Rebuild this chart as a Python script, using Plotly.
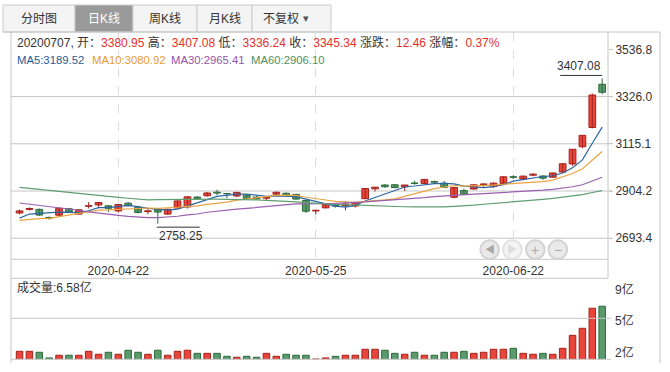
import plotly.graph_objects as go
import pandas as pd

# ---------------- data ----------------
dates = ["2020-04-08","2020-04-09","2020-04-10","2020-04-13","2020-04-14","2020-04-15","2020-04-16","2020-04-17",
         "2020-04-20","2020-04-21","2020-04-22","2020-04-23","2020-04-24","2020-04-27","2020-04-28","2020-04-29",
         "2020-04-30","2020-05-06","2020-05-07","2020-05-08","2020-05-11","2020-05-12","2020-05-13","2020-05-14",
         "2020-05-15","2020-05-18","2020-05-19","2020-05-20","2020-05-21","2020-05-22","2020-05-25","2020-05-26",
         "2020-05-27","2020-05-28","2020-05-29","2020-06-01","2020-06-02","2020-06-03","2020-06-04","2020-06-05",
         "2020-06-08","2020-06-09","2020-06-10","2020-06-11","2020-06-12","2020-06-15","2020-06-16","2020-06-17",
         "2020-06-18","2020-06-19","2020-06-22","2020-06-23","2020-06-24","2020-06-29","2020-06-30","2020-07-01",
         "2020-07-02","2020-07-03","2020-07-06","2020-07-07"]
open_ = [2806, 2822, 2822, 2786, 2796, 2825, 2801, 2836, 2842, 2838, 2815, 2850, 2832, 2812, 2822, 2801,
         2828, 2833, 2877, 2883, 2899, 2893, 2882, 2886, 2877, 2872, 2890, 2894, 2889, 2862, 2815, 2829,
         2840, 2839, 2837, 2870, 2914, 2931, 2932, 2923, 2940, 2938, 2946, 2939, 2876, 2906, 2913, 2933,
         2924, 2938, 2968, 2958, 2975, 2971, 2966, 2989, 3025, 3102, 3188, 3380.95]
high_ = [2821, 2831, 2826, 2790, 2829, 2829, 2822, 2855, 2853, 2840, 2846, 2854, 2835, 2823, 2824, 2825,
         2861, 2879, 2881, 2900, 2910, 2894, 2899, 2888, 2884, 2882, 2901, 2898, 2892, 2864, 2822, 2848,
         2846, 2858, 2853, 2917, 2922, 2935, 2934, 2932, 2950, 2957, 2951, 2949, 2921, 2915, 2933, 2938,
         2943, 2968, 2975, 2973, 2983, 2975, 2985, 3027, 3091, 3154, 3340, 3407.08]
low_ = [2800, 2817, 2792, 2776, 2792, 2808, 2798, 2826, 2833, 2811, 2808, 2836, 2804, 2800, 2758.25, 2797,
        2826, 2826, 2866, 2879, 2885, 2871, 2876, 2867, 2866, 2862, 2886, 2880, 2866, 2806, 2800, 2826,
        2830, 2818, 2830, 2868, 2902, 2918, 2917, 2904, 2932, 2936, 2937, 2917, 2872, 2889, 2910, 2922,
        2918, 2934, 2958, 2952, 2970, 2954, 2964, 2985, 3017, 3095, 3184, 3336.24]
close_ = [2815.37, 2825.90, 2796.63, 2783.05, 2827.28, 2811.17, 2819.94, 2838.49, 2852.55, 2827.01,
          2843.98, 2838.50, 2808.53, 2815.49, 2810.02, 2822.44, 2860.08, 2878.14, 2871.52, 2895.34,
          2894.80, 2891.56, 2898.05, 2870.34, 2868.46, 2875.42, 2898.58, 2883.74, 2867.92, 2813.77,
          2817.97, 2846.55, 2836.80, 2846.22, 2852.35, 2915.43, 2921.40, 2923.37, 2919.25, 2930.80,
          2937.77, 2956.11, 2943.75, 2920.90, 2919.74, 2890.03, 2931.75, 2935.87, 2939.32, 2967.63,
          2965.27, 2970.62, 2979.55, 2961.52, 2984.67, 3025.98, 3090.57, 3152.81, 3332.88, 3345.34]
# volume, in 亿
volume = [2.35, 2.35, 2.26, 1.73, 1.98, 1.98, 1.98, 2.35, 2.07, 2.26, 2.07, 2.45, 2.26, 2.07, 2.45,
          1.98, 2.35, 2.45, 2.16, 2.16, 2.16, 1.88, 1.79, 1.88, 1.79, 2.16, 1.88, 2.07, 1.98, 1.98,
          1.63, 1.73, 1.88, 1.98, 1.98, 2.54, 2.54, 2.45, 2.16, 2.07, 2.26, 1.98, 1.98, 2.26, 2.26,
          2.35, 2.16, 2.26, 2.54, 2.54, 2.63, 2.16, 2.07, 2.16, 2.07, 2.63, 3.85, 4.51, 6.39, 6.58]
# closes before the first visible day (needed for the moving averages)
prior_close = [3085.20, 3083.79, 3083.41, 3104.80, 3066.89, 3094.88, 3092.29, 3115.57, 3106.82, 3090.04,
               3074.08, 3075.50, 3095.79, 3052.14, 3060.75, 2976.53,
               2746.61, 2783.29, 2818.09, 2866.51, 2875.96, 2890.49, 2901.67, 2926.90, 2906.07, 2917.01,
               2983.62, 2984.97, 2975.40, 3030.15, 3039.67, 3031.23, 3013.05, 2987.93, 2991.33, 2880.30,
               2970.93, 2992.90, 3011.67, 3071.68, 3034.51, 2943.29, 2996.76, 2968.52, 2923.49, 2887.43,
               2789.25, 2779.64, 2728.76, 2702.13, 2745.62, 2660.17, 2722.44, 2781.59, 2764.91, 2772.20,
               2747.21, 2750.30, 2734.52, 2780.64, 2763.99, 2820.76]

price_ticks = [2693.4, 2904.2, 3115.1, 3326.0, 3536.8]
price_tick_text = ["2693.4", "2904.2", "3115.1", "3326.0", "3536.8"]
date_tick_idx = [10, 30, 50]
vol_tick_text = ["9亿", "5亿", "2亿"]
ma_periods = [5, 10, 30, 60]
ma_colors = ["#2c66a3", "#eba442", "#9b5fb0", "#5f9e70"]
ma_text_colors = ["#1f5c99", "#e89c30", "#9254aa", "#4e9160"]
tabs = ["分时图", "日K线", "周K线", "月K线", "不复权"]

# ---------------- styling ----------------
W, H = 670, 372
FONT = "Arial, 'Liberation Sans', 'Noto Sans CJK SC', sans-serif"
TXT = "#333333"
RED_VAL = "#e3302c"
UP_FILL, UP_LINE = "#e8453b", "#a3221c"
DN_FILL, DN_LINE = "#5b9a6d", "#2c6a3b"
LINE_C = "#c6c6c6"


def px(x):
    return x / W


def py(y):
    return 1 - y / H


n = len(dates)
idx = list(range(n))
up = [c >= o for o, c in zip(open_, close_)]

allc = pd.Series(prior_close + close_)
mas = [allc.rolling(p).mean().iloc[len(prior_close):].tolist() for p in ma_periods]

fig = go.Figure()

# wicks
for flag, col in [(True, UP_LINE), (False, DN_LINE)]:
    xs, ys = [], []
    for i in idx:
        if up[i] == flag:
            xs += [i, i, None]
            ys += [low_[i], high_[i], None]
    fig.add_trace(go.Scatter(x=xs, y=ys, mode="lines", line=dict(color=col, width=1),
                             hoverinfo="skip", xaxis="x", yaxis="y"))

# bodies
fig.add_trace(go.Bar(
    x=idx, y=[abs(c - o) for o, c in zip(open_, close_)], base=[min(o, c) for o, c in zip(open_, close_)],
    width=0.68,
    marker=dict(color=[UP_FILL if u else DN_FILL for u in up],
                line=dict(color=[UP_LINE if u else DN_LINE for u in up], width=1)),
    xaxis="x", yaxis="y", hoverinfo="skip"))

# moving averages
for ma, col in zip(mas, ma_colors):
    fig.add_trace(go.Scatter(x=idx, y=ma, mode="lines", line=dict(color=col, width=1.2),
                             xaxis="x", yaxis="y", hoverinfo="skip"))

# volume
fig.add_trace(go.Bar(
    x=idx, y=volume, width=0.66,
    marker=dict(color=[UP_FILL if u else DN_FILL for u in up],
                line=dict(color=[UP_LINE if u else DN_LINE for u in up], width=1)),
    xaxis="x2", yaxis="y2", hoverinfo="skip"))

# ---------------- axes ----------------
x_lo = (11 - 19.55) / 9.875
x_hi = (608 - 19.55) / 9.875
v_per_px = 4.4675
y_lo = 2904.2 - (259.3 - 191) * v_per_px
y_hi = 2904.2 + (191 - 32) * v_per_px

fig.update_layout(
    width=W, height=H, margin=dict(l=0, r=0, t=0, b=0),
    paper_bgcolor="white", plot_bgcolor="white", showlegend=False, barmode="overlay",
    font=dict(family=FONT, size=12, color=TXT),
    xaxis=dict(domain=[px(11), px(608)], range=[x_lo, x_hi], anchor="y",
               tickvals=date_tick_idx, ticktext=[dates[i] for i in date_tick_idx],
               showgrid=True, griddash="dash", gridcolor="#dcdcdc", gridwidth=1,
               zeroline=False, showline=False, ticks="", ticklabelstandoff=3,
               tickfont=dict(size=12, color=TXT, family=FONT)),
    yaxis=dict(domain=[py(259.3), py(32)], range=[y_lo, y_hi], side="right", anchor="x",
               tickvals=price_ticks, ticktext=price_tick_text, showgrid=False, zeroline=False,
               showline=False, ticks="outside", ticklen=4, tickcolor=LINE_C,
               tickfont=dict(size=12, color=TXT, family=FONT)),
    xaxis2=dict(domain=[px(11), px(608)], range=[x_lo, x_hi], anchor="y2", matches="x",
                showticklabels=False, showgrid=False, zeroline=False, showline=False, ticks=""),
    yaxis2=dict(domain=[py(359.3), py(278.3)], range=[1.6, 9.2], side="right", anchor="x2",
                showticklabels=False, showgrid=False, zeroline=False, showline=False, ticks=""),
)

shapes = []


def hline(y, x0, x1, color=LINE_C, width=1):
    shapes.append(dict(type="line", xref="paper", yref="paper", x0=px(x0), x1=px(x1), y0=py(y), y1=py(y),
                       line=dict(color=color, width=width)))


def vline(x, y0, y1, color=LINE_C, width=1):
    shapes.append(dict(type="line", xref="paper", yref="paper", x0=px(x), x1=px(x), y0=py(y0), y1=py(y1),
                       line=dict(color=color, width=width)))


# tabs
tab_edges = [3, 75, 133, 197, 252, 331]
for k in range(len(tabs)):
    sel = k == 1
    shapes.append(dict(type="rect", xref="paper", yref="paper", x0=px(tab_edges[k]), x1=px(tab_edges[k + 1]),
                       y0=py(32), y1=py(5), fillcolor="#9a9a9a" if sel else "#f4f4f4",
                       line=dict(color="#cccccc", width=1), layer="below"))

# frame
hline(32, 3, 660)
vline(11, 32, 363)
vline(608, 32, 278.3)
vline(660, 32, 363)
hline(259.3, 11, 608)
hline(278.3, 11, 608)
hline(318.3, 11, 611)
hline(359.3, 11, 611)
# price gridlines
for v in price_ticks[:-1]:
    shapes.append(dict(type="line", xref="paper", yref="y", x0=px(11), x1=px(612), y0=v, y1=v,
                       line=dict(color=LINE_C, width=1), layer="below"))

# high / low markers
ih = max(idx, key=lambda i: high_[i])
il = min(idx, key=lambda i: low_[i])
shapes.append(dict(type="line", xref="x", yref="y", xsizemode="pixel", ysizemode="pixel",
                   xanchor=ih, yanchor=high_[ih], x0=-42, x1=0, y0=3, y1=3,
                   line=dict(color="#333333", width=1)))
shapes.append(dict(type="line", xref="x", yref="y", xsizemode="pixel", ysizemode="pixel",
                   xanchor=il, yanchor=low_[il], x0=-1, x1=42, y0=-3.5, y1=-3.5,
                   line=dict(color="#333333", width=1)))

# navigation buttons
btn_x = [489.7, 512.3, 535.3, 557.8]
for k, bx in enumerate(btn_x):
    r = 9.3
    shapes.append(dict(type="circle", xref="paper", yref="paper", x0=px(bx - r), x1=px(bx + r),
                       y0=py(249.6 + r), y1=py(249.6 - r),
                       fillcolor="#f3f3f3" if k == 1 else "#e9e9e9",
                       line=dict(color="#e2e2e2" if k == 1 else "#d3d3d3", width=2)))

fig.update_layout(shapes=shapes)

ann = []


def text(x, y, s, color=TXT, size=12, xanchor="left", yanchor="middle"):
    ann.append(dict(xref="paper", yref="paper", x=px(x), y=py(y), text=s, showarrow=False,
                    xanchor=xanchor, yanchor=yanchor, font=dict(color=color, size=size, family=FONT)))


tab_cx = [39, 104, 165, 224.5, 281]
for k, t in enumerate(tabs):
    text(tab_cx[k], 18.8, t, color="white" if k == 1 else TXT, xanchor="center")
text(306, 18.5, "▾", color="#555555", size=11, xanchor="center")


def red(v):
    return f"<span style='color:{RED_VAL}'>{v}</span>"


chg = close_[-1] - close_[-2]
pct = chg / close_[-2] * 100
info = (f"{dates[-1].replace('-', '')}, 开：{red(f'{open_[-1]:.2f}')} 高：{red(f'{high_[-1]:.2f}')} "
        f"低：{red(f'{low_[-1]:.2f}')} 收：{red(f'{close_[-1]:.2f}')} 涨跌：{red(f'{chg:.2f}')} "
        f"涨幅：{red(f'{pct:.2f}%')}")
text(14.5, 42, info)

ma_x = [15, 90, 169, 249]
for p, ma, col, xx in zip(ma_periods, mas, ma_text_colors, ma_x):
    text(xx, 60.5, f"MA{p}:{ma[-1]:.2f}", color=col, size=11.3)

text(15, 287.5, f"成交量:{volume[-1]:.2f}亿")

vol_label_y = [289.3, 320.7, 352.7]
for t, yy in zip(vol_tick_text, vol_label_y):
    text(613, yy, t)

# high / low labels
ann.append(dict(xref="x", yref="y", x=ih, y=high_[ih], text=f"{high_[ih]:.2f}", showarrow=False,
                xanchor="right", yanchor="bottom", yshift=3, xshift=1, font=dict(size=12, color=TXT, family=FONT)))
ann.append(dict(xref="x", yref="y", x=il, y=low_[il], text=f"{low_[il]:.2f}", showarrow=False,
                xanchor="left", yanchor="top", yshift=-3, xshift=-1, font=dict(size=12, color=TXT, family=FONT)))

# button icons
icons = ["◀", "▶", "+", "−"]
for k, (bx, ic) in enumerate(zip(btn_x, icons)):
    text(bx, 249.8, ic, color="#dddddd" if k == 1 else "#a9a9a9", size=10 if k < 2 else 14, xanchor="center")

fig.update_layout(annotations=ann)

fig.write_html("out.html", config={"displayModeBar": False},
               post_script="document.body.style.margin='0px';")
